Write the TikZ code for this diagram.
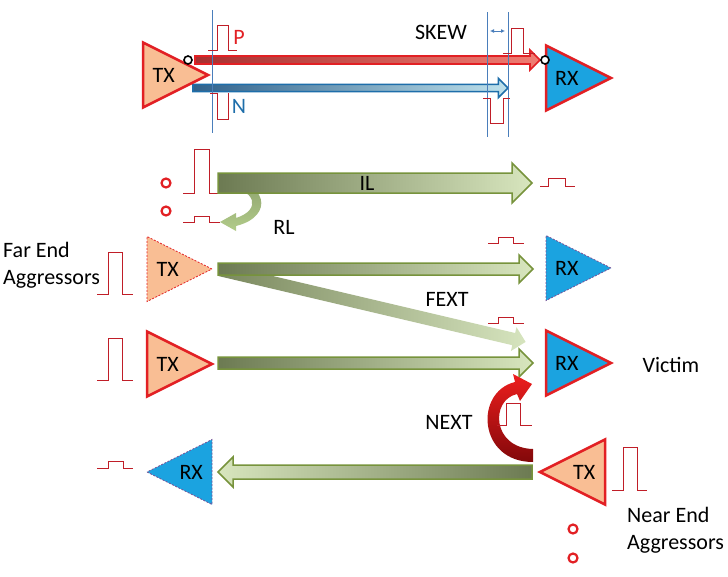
\documentclass[tikz,border=0pt]{standalone}
\usepackage{fontspec}
\setmainfont{Carlito}
\usetikzlibrary{arrows.meta,shapes.geometric,shapes.arrows,calc}

\definecolor{peach}{RGB}{249,190,148}
\definecolor{txred}{RGB}{226,32,36}
\definecolor{rxblue}{RGB}{27,163,224}
\definecolor{pulsered}{RGB}{192,30,40}
\definecolor{guide}{RGB}{74,126,187}
\definecolor{olive}{RGB}{119,147,60}
\definecolor{olivedark}{RGB}{108,122,82}
\definecolor{olivelight}{RGB}{216,230,190}
\definecolor{fextdark}{RGB}{122,136,94}
\definecolor{fextlight}{RGB}{214,228,190}
\definecolor{pdark}{RGB}{168,48,48}
\definecolor{plight}{RGB}{240,125,115}
\definecolor{nline}{RGB}{30,110,170}
\definecolor{ndark}{RGB}{48,98,140}
\definecolor{nlight}{RGB}{190,225,236}
\definecolor{rldark}{RGB}{140,160,108}
\definecolor{rllight}{RGB}{178,204,138}
\definecolor{nextdark}{RGB}{130,8,10}
\definecolor{nextlight}{RGB}{238,30,30}
\definecolor{ghostline}{RGB}{120,80,150}

\begin{document}
\begin{tikzpicture}[x=1pt, y=-1pt,
  tri/.style={isosceles triangle, isosceles triangle stretches,
              minimum width=65pt, minimum height=65pt,
              inner sep=0pt, outer sep=0pt, anchor=lower side},
  drv/.style={tri, fill=peach, draw=txred, line width=2.5pt},
  rcv/.style={tri, fill=rxblue, draw=txred, line width=2.5pt},
  ghost/.style={draw=#1, line width=0.8pt, dash pattern=on 2pt off 1.5pt},
  chan/.style={single arrow, single arrow head indent=0pt,
               single arrow tip angle=90, inner xsep=0pt, outer sep=0pt,
               anchor=tail, draw=olive, line width=1.5pt,
               left color=olivedark, right color=olivelight},
  sig/.style={draw=pulsered, line width=1pt, line join=miter},
  guideline/.style={draw=guide, line width=0.9pt},
  lbl/.style={font=\fontsize{22}{27}\selectfont, inner sep=0pt},
  probe/.style={circle, draw=black, line width=1.6pt, fill=white,
                minimum size=8pt, inner sep=0pt},
  ring/.style={circle, draw=txred, line width=2.2pt, fill=white,
               minimum size=9pt, inner sep=0pt}
]
\useasboundingbox (0,0) rectangle (728,576);

\node[chan, draw=txred, left color=pdark, right color=plight, line width=1.6pt,
      inner ysep=3.2pt, single arrow head extend=6pt, minimum height=345pt] (pwire) at (195,60) {};
\node[chan, draw=nline, left color=ndark, right color=nlight, line width=1.6pt,
      inner ysep=2.8pt, single arrow head extend=6pt, minimum height=315pt] (nwire) at (193,88) {};
\node[drv] (txa) at (143,75) {};
\node[rcv] (rxa) at (546,78) {};
\node[lbl] (txa-t) at ($(txa.lower side)!.32!(txa.apex)$) {TX};
\node[lbl] (rxa-t) at ($(rxa.lower side)!.32!(rxa.apex)$) {RX};
\node[probe] (pa) at (188,60) {};
\node[probe] (pb) at (545,60) {};

\coordinate (g1a) at (212,10);  \coordinate (g1b) at (212,133);
\coordinate (g2a) at (487,12);  \coordinate (g2b) at (487,137);
\coordinate (g3a) at (508,12);  \coordinate (g3b) at (508,137);
\draw[guideline] (g1a) -- (g1b);
\draw[guideline] (g2a) -- (g2b);
\draw[guideline] (g3a) -- (g3b);
\coordinate (sk1) at (490,31);
\coordinate (sk2) at (505,31);
\draw[guideline, {Latex[length=4pt,width=4pt]}-{Latex[length=4pt,width=4pt]}] (sk1) -- (sk2);

\draw[sig] (208,50) -- (217,50) -- (217,25) -- (228,25) -- (228,50) -- (237,50);
\draw[sig] (210,93) -- (217,93) -- (217,119) -- (228,119) -- (228,93);
\draw[sig] (503,53) -- (511,53) -- (511,28) -- (523,28) -- (523,53) -- (535,53);
\draw[sig] (483,98) -- (490,98) -- (490,123) -- (503,123) -- (503,98) -- (510,98);
\node[lbl, text=txred] (plbl) at (239,37) {P};
\node[lbl, text=nline] (nlbl) at (239,106) {N};
\node[lbl] (skew) at (441,32) {SKEW};

\node[ring] (ra) at (166,183) {};
\node[ring] (rb) at (166,211) {};
\draw[sig] (183,193) -- (194,193) -- (194,149) -- (209,149) -- (209,193) -- (220,193);
\draw[sig] (183,222) -- (194,222) -- (194,216) -- (209,216) -- (209,222) -- (220,222);
\shade[top color=rldark, bottom color=rllight]
  (224,179) .. controls (266,180) and (276,216) .. (236,226)
  -- (236,231) -- (220,222) -- (236,213) -- (236,218)
  .. controls (262,210) and (256,188) .. (224,187) -- cycle;
\node[chan, inner ysep=9.25pt, single arrow head extend=10pt, minimum height=314pt] (il) at (218,183) {};
\draw[sig] (540,186) -- (548,186) -- (548,178) -- (565,178) -- (565,186) -- (575,186);
\node[lbl] (illbl) at (367,183) {IL};
\node[lbl] (rllbl) at (284,227) {RL};

\node[lbl, align=left, anchor=west] (far) at (3,265) {Far End\\Aggressors};
\draw[sig] (97,294) -- (108,294) -- (108,252) -- (122,252) -- (122,294) -- (133,294);
\node[tri, fill=peach, ghost=txred] (txb) at (147,269) {};
\node[lbl] (txb-t) at ($(txb.lower side)!.32!(txb.apex)$) {TX};
\node[chan, draw=none, rotate=-13.24, left color=fextdark, right color=fextlight,
      inner ysep=5.5pt, single arrow head extend=6pt, minimum height=314pt] (fext) at (220,270) {};
\node[chan, inner ysep=5.25pt, single arrow head extend=8pt, minimum height=315pt] (chb) at (218,269) {};
\draw[sig] (488,243) -- (498,243) -- (498,237) -- (513,237) -- (513,243) -- (524,243);
\node[tri, fill=rxblue, ghost=ghostline] (rxb) at (546,268) {};
\node[lbl] (rxb-t) at ($(rxb.lower side)!.32!(rxb.apex)$) {RX};
\node[lbl] (fextlbl) at (447,299) {FEXT};

\draw[sig] (488,323) -- (498,323) -- (498,317) -- (513,317) -- (513,323) -- (524,323);
\draw[sig] (97,380) -- (108,380) -- (108,338) -- (122,338) -- (122,380) -- (133,380);
\node[drv] (txc) at (147,364) {};
\node[lbl] (txc-t) at ($(txc.lower side)!.32!(txc.apex)$) {TX};
\node[chan, inner ysep=5.25pt, single arrow head extend=8pt, minimum height=315pt] (chc) at (218,363) {};
\node[rcv] (rxc) at (546,363) {};
\node[lbl] (rxc-t) at ($(rxc.lower side)!.32!(rxc.apex)$) {RX};
\node[lbl] (victim) at (671,365) {Victim};

\shade[top color=nextlight, bottom color=nextdark]
  (533,462) .. controls (478,462) and (474,392) .. (515,382)
  -- (513,374) -- (532,384) -- (520,401) -- (517,394)
  .. controls (490,400) and (492,448) .. (533,449) -- cycle;
\draw[sig] (497,425) -- (506,425) -- (506,403) -- (520,403) -- (520,425) -- (532,425);
\node[lbl] (nextlbl) at (449,422) {NEXT};

\draw[sig] (97,468) -- (108,468) -- (108,461) -- (123,461) -- (123,468) -- (133,468);
\node[tri, shape border rotate=180, fill=rxblue, ghost=ghostline] (rxd) at (212,472) {};
\node[lbl] (rxd-t) at ($(rxd.lower side)!.32!(rxd.apex)$) {RX};
\node[chan, shape border rotate=180, left color=olivelight, right color=olivedark,
      inner ysep=6.25pt, single arrow head extend=8pt, minimum height=314pt] (chd) at (532,472) {};
\node[drv, shape border rotate=180] (txd) at (605,472) {};
\node[lbl] (txd-t) at ($(txd.lower side)!.32!(txd.apex)$) {TX};
\draw[sig] (612,490) -- (623,490) -- (623,447) -- (637,447) -- (637,490) -- (647,490);
\node[lbl, align=left, anchor=west] (near) at (627,530) {Near End\\Aggressors};
\node[ring] (rc) at (573,529) {};
\node[ring] (rd) at (573,558) {};
\end{tikzpicture}
\end{document}
